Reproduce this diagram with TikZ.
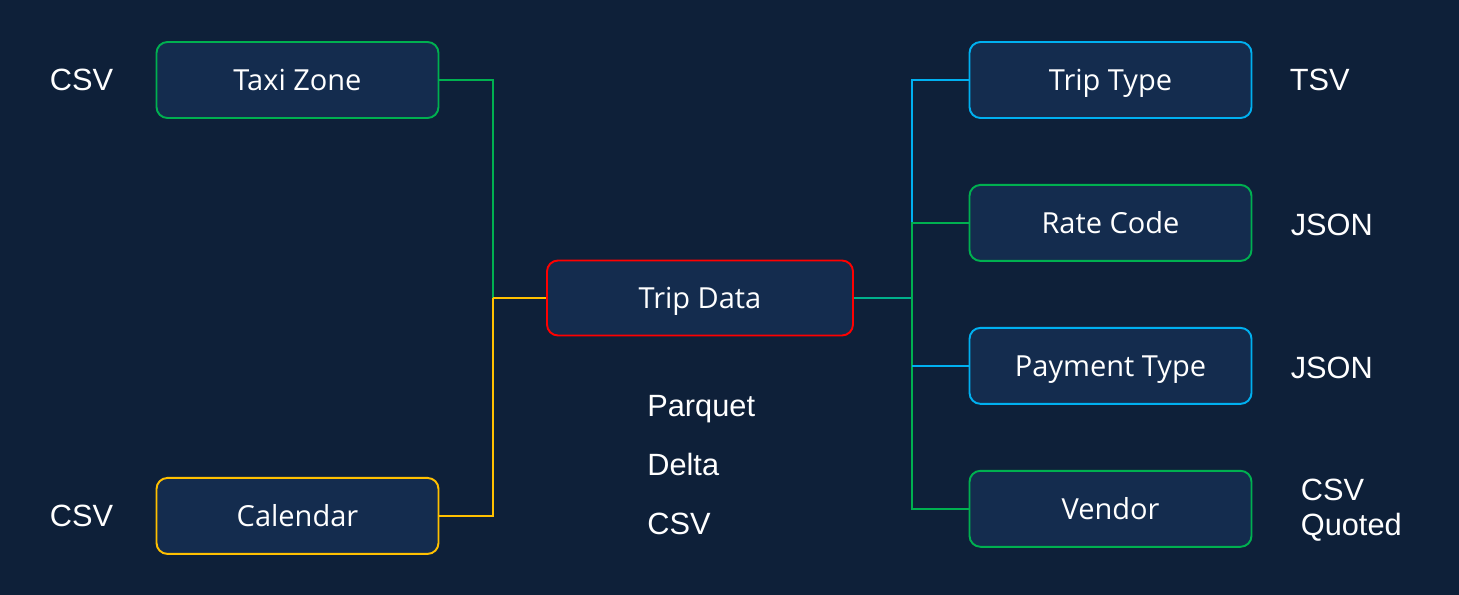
\documentclass[tikz,border=0pt]{standalone}
\usepackage{fontspec}
\setmainfont{Liberation Sans}
\newfontfamily\boxfont{Open Sans}
\usetikzlibrary{positioning,calc}

\definecolor{bgnavy}{HTML}{0E2039}
\definecolor{boxnavy}{HTML}{142C4E}
\definecolor{zgreen}{HTML}{00B050}
\definecolor{zblue}{HTML}{00B0F0}
\definecolor{zred}{HTML}{FF0000}
\definecolor{zyellow}{HTML}{FFC000}
\definecolor{zteal}{HTML}{00B08C}

\tikzset{
    tbl/.style={draw,line width=1.1pt,fill=boxnavy,rounded corners=0.22cm,text=white,
        minimum width=5.64cm,minimum height=1.52cm,text height=11.8pt,text depth=0pt,
        font=\boxfont\fontsize{16.5}{20}\selectfont},
    fmt/.style={text=white,align=left,inner sep=0pt,font=\fontsize{17.5}{19.8}\selectfont},
    link/.style={line width=1.1pt}
}

\begin{document}
\begin{tikzpicture}
    \fill[bgnavy] (0,0) rectangle (29.18,-11.9);
    \useasboundingbox (0,0) rectangle (29.18,-11.9);

    \draw
        node[tbl,draw=zred,minimum width=6.12cm,minimum height=1.5cm] (trip) at (14.0,-5.96) {Trip Data}

        node[tbl,draw=zgreen] (taxi) at (5.95,-1.6) {Taxi Zone}
        node[tbl,draw=zyellow,below=7.16cm of taxi] (cal) {Calendar}

        node[tbl,draw=zblue] (triptype) at (22.21,-1.6) {Trip Type}
        node[tbl,draw=zgreen,below=1.3cm of triptype] (rate) {Rate Code}
        node[tbl,draw=zblue,below=1.3cm of rate] (pay) {Payment Type}
        node[tbl,draw=zgreen,below=1.3cm of pay] (vendor) {Vendor}

        node[fmt,left=0.84cm of taxi] (taxifmt) {CSV}
        node[fmt,left=0.84cm of cal] (calfmt) {CSV}
        node[fmt,right=0.74cm of triptype] (triptypefmt) {TSV}
        node[fmt,right=0.76cm of rate,yshift=-0.03cm] (ratefmt) {JSON}
        node[fmt,right=0.76cm of pay,yshift=-0.04cm] (payfmt) {JSON}
        node[fmt,right=0.96cm of vendor,yshift=-0.02cm] (vendorfmt) {CSV\\Quoted}

        node[fmt,anchor=base west] (parquet) at (12.94,-8.32) {Parquet}
        node[fmt,anchor=base west] (delta) at (12.94,-9.5) {Delta}
        node[fmt,anchor=base west] (tripcsv) at (12.94,-10.68) {CSV}
    ;
    \coordinate (ljoin) at (9.86,-5.96);
    \coordinate (rjoin) at (18.24,-5.96);

    % left side
    \draw[link,zgreen] (taxi.east) -| (ljoin);
    \draw[link,zyellow] (cal.east) -| (ljoin);
    \draw[link,zyellow] (ljoin) -- (trip.west);

    % right side
    \draw[link,zteal] (trip.east) -- (rjoin);
    \draw[link,zblue] (triptype.west) -| (rate.west -| rjoin);
    \draw[link,zgreen] (rate.west) -| (vendor.west -| rjoin) -- (vendor.west);
    \draw[link,zblue] (pay.west) -- (pay.west -| rjoin);
\end{tikzpicture}
\end{document}
